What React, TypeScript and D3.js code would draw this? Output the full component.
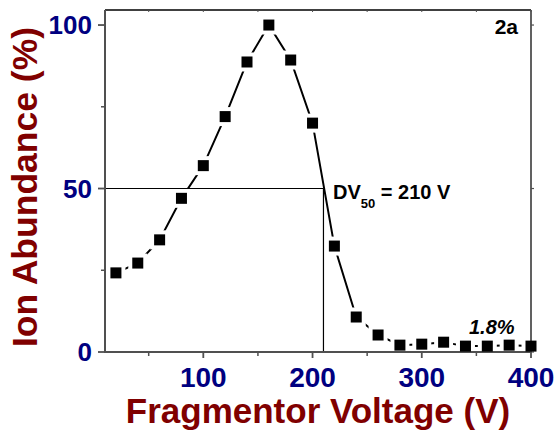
import React from "react";
import * as d3 from "d3";

const voltages = [20, 40, 60, 80, 100, 120, 140, 160, 180, 200, 220, 240, 260, 280, 300, 320, 340, 360, 380, 400];
const abundance = [24.2, 27.2, 34.3, 47, 57, 72, 88.7, 100, 89.3, 70, 32.4, 10.7, 5.2, 2.1, 2.4, 3, 1.8, 1.8, 2.1, 1.8];
const xMajorTicks = [100, 200, 300, 400];
const xMinorTicks = [50, 150, 250, 350];
const yMajorTicks = [0, 50, 100];
const yMinorTicks = [25, 75];
const dv50 = 210;
const half = 50;

const W = 558, H = 432;
const left = 105, right = 531, top = 10, bottom = 352;

export default function App() {
  const x = d3.scaleLinear().domain([10, 400]).range([left, right]);
  const y = d3.scaleLinear().domain([0, 104.6]).range([bottom, top]);
  const pts = voltages.map((v, i) => [x(v), y(abundance[i])] as [number, number]);
  const line = d3.line().curve(d3.curveLinear)(pts) || "";
  const axisCol = "#505050";
  const tickCol = "#000080";
  const titleCol = "#800000";
  const ms = 11;
  const gap = 19;
  return (
    <svg width={W} height={H} style={{ position: "absolute", left: 0, top: 0, background: "#fff" }}
      fontFamily="'Liberation Sans', Arial, sans-serif">
      <defs>
        <mask id="gapmask" maskUnits="userSpaceOnUse" x={0} y={0} width={W} height={H}>
          <rect x={0} y={0} width={W} height={H} fill="#fff" />
          {pts.map((p, i) => (
            <rect key={i} x={p[0] - gap / 2} y={p[1] - gap / 2} width={gap} height={gap} fill="#000" />
          ))}
        </mask>
      </defs>
      {/* reference lines */}
      <line x1={left} x2={x(dv50)} y1={y(half)} y2={y(half)} stroke="#000" strokeWidth={1.2} />
      <line x1={x(dv50)} x2={x(dv50)} y1={y(half)} y2={bottom} stroke="#000" strokeWidth={1.2} />
      {/* frame */}
      <line x1={left} x2={right} y1={top} y2={top} stroke="#000" strokeWidth={1.5} />
      <line x1={right} x2={right} y1={top} y2={bottom} stroke={axisCol} strokeWidth={1.8} />
      {xMajorTicks.concat(xMinorTicks).map((t) => (
        <line key={"tt" + t} x1={x(t)} x2={x(t)} y1={top} y2={top + 2} stroke={axisCol} strokeWidth={1} />
      ))}
      {yMajorTicks.map((t) => (
        <line key={"rt" + t} x1={right} x2={right + 3} y1={y(t)} y2={y(t)} stroke={axisCol} strokeWidth={1.2} />
      ))}
      <line x1={left} x2={left} y1={top} y2={bottom + 1} stroke={axisCol} strokeWidth={2} />
      <line x1={left - 1} x2={right} y1={bottom} y2={bottom} stroke={axisCol} strokeWidth={2} />
      {xMajorTicks.map((t) => (
        <g key={"xm" + t}>
          <line x1={x(t)} x2={x(t)} y1={bottom} y2={bottom + 6} stroke={axisCol} strokeWidth={1.8} />
          <text x={x(t)} y={387} textAnchor="middle" fontSize={28} fontWeight="bold" fill={tickCol}>{t}</text>
        </g>
      ))}
      {xMinorTicks.map((t) => (
        <line key={"xn" + t} x1={x(t)} x2={x(t)} y1={bottom} y2={bottom + 4} stroke={axisCol} strokeWidth={1.5} />
      ))}
      {yMajorTicks.map((t) => (
        <g key={"ym" + t}>
          <line x1={left - 7} x2={left} y1={y(t)} y2={y(t)} stroke={axisCol} strokeWidth={1.8} />
          <text x={92} y={y(t) + 9} textAnchor="end" fontSize={26} fontWeight="bold" fill={tickCol}>{t}</text>
        </g>
      ))}
      {yMinorTicks.map((t) => (
        <line key={"yn" + t} x1={left - 4} x2={left} y1={y(t)} y2={y(t)} stroke={axisCol} strokeWidth={1.5} />
      ))}
      {/* data */}
      <path d={line} fill="none" stroke="#000" strokeWidth={2} mask="url(#gapmask)" />
      {pts.map((p, i) => (
        <rect key={"m" + i} x={p[0] - ms / 2} y={p[1] - ms / 2} width={ms} height={ms} fill="#000" />
      ))}
      {/* annotations */}
      <text x={518} y={34} textAnchor="end" fontSize={21} fontWeight="bold" fill="#000">2a</text>
      <text x={333} y={199} fontSize={20} fontWeight="bold" fill="#000">
        DV<tspan fontSize={13} dy={9}>50</tspan><tspan dy={-9}> = 210 V</tspan>
      </text>
      <text x={469} y={334} fontSize={20} fontWeight="bold" fontStyle="italic" fill="#000">1.8%</text>
      {/* titles */}
      <text x={318} y={423} textAnchor="middle" fontSize={35} fontWeight="bold" fill={titleCol}>Fragmentor Voltage (V)</text>
      <text transform={`translate(37,187) rotate(-90)`} textAnchor="middle" fontSize={35.5} fontWeight="bold" fill={titleCol}>Ion Abundance (%)</text>
    </svg>
  );
}
